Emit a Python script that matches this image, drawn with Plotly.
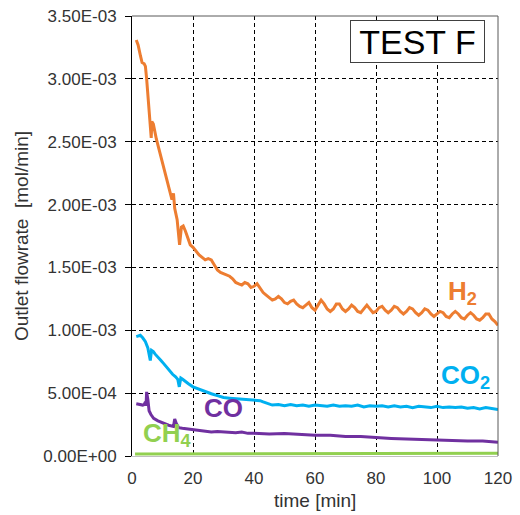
import plotly.graph_objects as go

# ---------------- data (values in 1e-3 mol/min) ----------------
h2_t = [1.4, 2.0, 2.8, 3.3, 4.0, 4.4, 4.8, 5.5, 6.0, 6.3, 6.5, 7.0, 8.0, 9.0, 9.8, 10.5,
        11.5, 12.3, 13.1, 13.6, 14.0, 14.8, 15.6, 16.2, 16.8, 17.5, 18.3, 19.1, 20, 21,
        22, 23, 24, 25, 26, 27, 28, 29, 30, 31, 32, 33, 34, 35, 36, 37, 38, 39, 40, 41,
        42, 43, 44, 45, 46, 47, 48, 49, 50, 51, 52, 53, 54, 55, 56, 57, 58, 59, 60, 61,
        62, 63, 64, 65, 66, 67, 68, 69, 70, 71, 72, 73, 74, 75, 76, 77, 78, 79, 80, 81,
        82, 83, 84, 85, 86, 87, 88, 89, 90, 91, 92, 93, 94, 95, 96, 97, 98, 99, 100, 101,
        102, 103, 104, 105, 106, 107, 108, 109, 110, 111, 112, 113, 114, 115, 116, 117,
        118, 119, 120]
h2_v = [3.31, 3.27, 3.18, 3.13, 3.12, 3.10, 3.00, 2.76, 2.66, 2.53, 2.66, 2.64, 2.52, 2.43,
        2.34, 2.28, 2.19, 2.12, 2.04, 2.09, 1.97, 1.88, 1.68, 1.82, 1.83, 1.79, 1.73, 1.68,
        1.66, 1.63, 1.60, 1.58, 1.56, 1.57, 1.56, 1.52, 1.48, 1.46, 1.45, 1.44, 1.43, 1.41,
        1.38, 1.37, 1.36, 1.38, 1.37, 1.34, 1.35, 1.37, 1.33, 1.30, 1.28, 1.26, 1.24, 1.25,
        1.27, 1.25, 1.22, 1.21, 1.23, 1.24, 1.21, 1.19, 1.18, 1.20, 1.22, 1.18, 1.16, 1.20,
        1.24, 1.21, 1.17, 1.15, 1.17, 1.21, 1.21, 1.17, 1.15, 1.17, 1.20, 1.18, 1.15, 1.14,
        1.17, 1.20, 1.17, 1.14, 1.15, 1.18, 1.19, 1.16, 1.14, 1.16, 1.19, 1.18, 1.15, 1.13,
        1.15, 1.18, 1.17, 1.14, 1.12, 1.14, 1.17, 1.16, 1.13, 1.11, 1.13, 1.15, 1.14, 1.11,
        1.10, 1.13, 1.15, 1.13, 1.10, 1.09, 1.12, 1.14, 1.12, 1.09, 1.08, 1.10, 1.13, 1.13,
        1.09, 1.07, 1.04]

co2_t = [1.4, 2.7, 3.5, 4.4, 5.2, 5.7, 6.0, 6.4, 7.0, 7.6, 8.5, 9.5, 10.4, 11.5, 12.5,
         13.3, 14.3, 15.0, 15.5, 16.0, 16.6, 17.5, 18.5, 20, 22, 24, 26, 28, 30, 32, 34,
         36, 38, 40, 42, 43, 44, 45, 46, 48, 50, 52, 54, 56, 58, 60, 62, 64, 66, 68, 70,
         72, 74, 76, 78, 80, 82, 84, 86, 88, 90, 92, 94, 96, 98, 100, 102, 104, 106, 108,
         110, 112, 114, 116, 118, 120]
co2_v = [0.95, 0.96, 0.94, 0.91, 0.86, 0.80, 0.76, 0.84, 0.83, 0.81, 0.79, 0.76, 0.735,
         0.70, 0.67, 0.65, 0.63, 0.61, 0.55, 0.62, 0.61, 0.59, 0.575, 0.55, 0.53, 0.51,
         0.495, 0.48, 0.465, 0.46, 0.455, 0.45, 0.445, 0.445, 0.44, 0.43, 0.42, 0.415,
         0.405, 0.41, 0.40, 0.41, 0.40, 0.405, 0.395, 0.405, 0.40, 0.395, 0.405, 0.395,
         0.40, 0.395, 0.405, 0.39, 0.40, 0.395, 0.40, 0.39, 0.40, 0.39, 0.395, 0.385,
         0.395, 0.39, 0.385, 0.395, 0.385, 0.39, 0.385, 0.39, 0.38, 0.385, 0.375, 0.385,
         0.38, 0.37]

co_t = [1.4, 2.5, 3.5, 4.0, 4.4, 4.6, 4.8, 5.2, 5.6, 6.2, 7.1, 8.5, 10.4, 12, 13.6, 14.0,
        14.5, 15.3, 16.5, 18, 20, 22, 24, 26, 28, 30, 32, 34, 36, 38, 40, 45, 50, 55, 60,
        65, 70, 75, 80, 85, 90, 95, 100, 105, 110, 115, 120]
co_v = [0.415, 0.41, 0.405, 0.41, 0.43, 0.40, 0.51, 0.45, 0.36, 0.33, 0.30, 0.28, 0.26,
        0.245, 0.235, 0.295, 0.26, 0.225, 0.22, 0.215, 0.205, 0.20, 0.195, 0.19, 0.195,
        0.19, 0.19, 0.185, 0.19, 0.18, 0.18, 0.175, 0.178, 0.17, 0.165, 0.165, 0.155,
        0.155, 0.145, 0.14, 0.135, 0.13, 0.13, 0.125, 0.12, 0.12, 0.11]

ch4_t = [1, 10, 20, 30, 40, 50, 60, 70, 80, 90, 100, 110, 120]
ch4_v = [0.015, 0.016, 0.017, 0.018, 0.019, 0.02, 0.021, 0.021, 0.022, 0.022, 0.022,
         0.022, 0.022]

y_ticks = [0, 0.5e-3, 1.0e-3, 1.5e-3, 2.0e-3, 2.5e-3, 3.0e-3, 3.5e-3]
y_tick_text = ["0.00E+00", "5.00E-04", "1.00E-03", "1.50E-03", "2.00E-03",
               "2.50E-03", "3.00E-03", "3.50E-03"]
x_ticks = [0, 20, 40, 60, 80, 100, 120]

SCALE = 1e-3
FONT = "Liberation Sans, Arial, sans-serif"

fig = go.Figure()
series = [
    ("CH4", ch4_t, ch4_v, "#92D050"),
    ("CO", co_t, co_v, "#7030A0"),
    ("CO2", co2_t, co2_v, "#00B0F0"),
    ("H2", h2_t, h2_v, "#ED7D31"),
]
for name, t, v, c in series:
    fig.add_trace(go.Scatter(x=t, y=[val * SCALE for val in v], mode="lines", name=name,
                             line=dict(color=c, width=3), showlegend=False))

labels = [
    ("H<sub>2</sub>", 108.5, 1.30e-3, "#ED7D31"),
    ("CO<sub>2</sub>", 109.3, 0.63e-3, "#00B0F0"),
    ("CO", 30.0, 0.38e-3, "#7030A0"),
    ("CH<sub>4</sub>", 11.6, 0.17e-3, "#92D050"),
]
for txt, x, y, c in labels:
    fig.add_annotation(x=x, y=y, text=txt, showarrow=False, xanchor="center",
                       yanchor="middle",
                       font=dict(family=FONT, size=26, color=c, weight="bold"))

fig.add_annotation(xref="paper", yref="paper", x=0.781, y=0.942, text="TEST F",
                   xanchor="center", yanchor="middle",
                   showarrow=False, font=dict(family=FONT, size=34, color="black"),
                   bgcolor="white", bordercolor="#404040", borderwidth=1, borderpad=0,
                   width=133, height=41)

# x-axis title
fig.add_annotation(xref="paper", yref="paper", x=0.5, y=-0.1, text="time [min]",
                   xanchor="center", yanchor="middle", showarrow=False,
                   font=dict(family=FONT, size=19, color="#333333"))

# frame top & right
fig.add_shape(type="line", xref="paper", yref="paper", x0=0, x1=1, y0=1, y1=1,
              line=dict(color="#595959", width=1))
fig.add_shape(type="line", xref="paper", yref="paper", x0=1, x1=1, y0=0, y1=1,
              line=dict(color="#595959", width=1))

fig.update_layout(
    width=520, height=515,
    margin=dict(l=132, r=22, t=16, b=59, autoexpand=False),
    paper_bgcolor="white", plot_bgcolor="white",
    font=dict(family=FONT, size=17, color="#333333"),
    xaxis=dict(range=[0, 120], tickvals=x_ticks, showgrid=True, gridcolor="black",
               gridwidth=1, griddash="4px,3px", zeroline=False, showline=True,
               linecolor="#BFBFBF", linewidth=1, ticks="", ticklen=0, automargin=False,
               ticklabelstandoff=7, ticklabeloverflow="allow",
               tickfont=dict(size=17)),
    yaxis=dict(range=[0, 3.5e-3], tickvals=y_ticks, ticktext=y_tick_text, showgrid=True,
               gridcolor="black", gridwidth=1, griddash="4px,3px", zeroline=False,
               showline=True, linecolor="black", linewidth=1, ticks="outside",
               ticklen=6, tickcolor="black", tickfont=dict(size=17), automargin=False,
               ticklabelstandoff=5, ticklabeloverflow="allow",
               title=dict(text="Outlet flowrate  [mol/min]", font=dict(size=19),
                          standoff=9)),
)

fig.write_html("out.html", config={"displayModeBar": False},
               post_script="document.body.style.margin='0';"
                           "document.body.style.overflow='hidden';")
